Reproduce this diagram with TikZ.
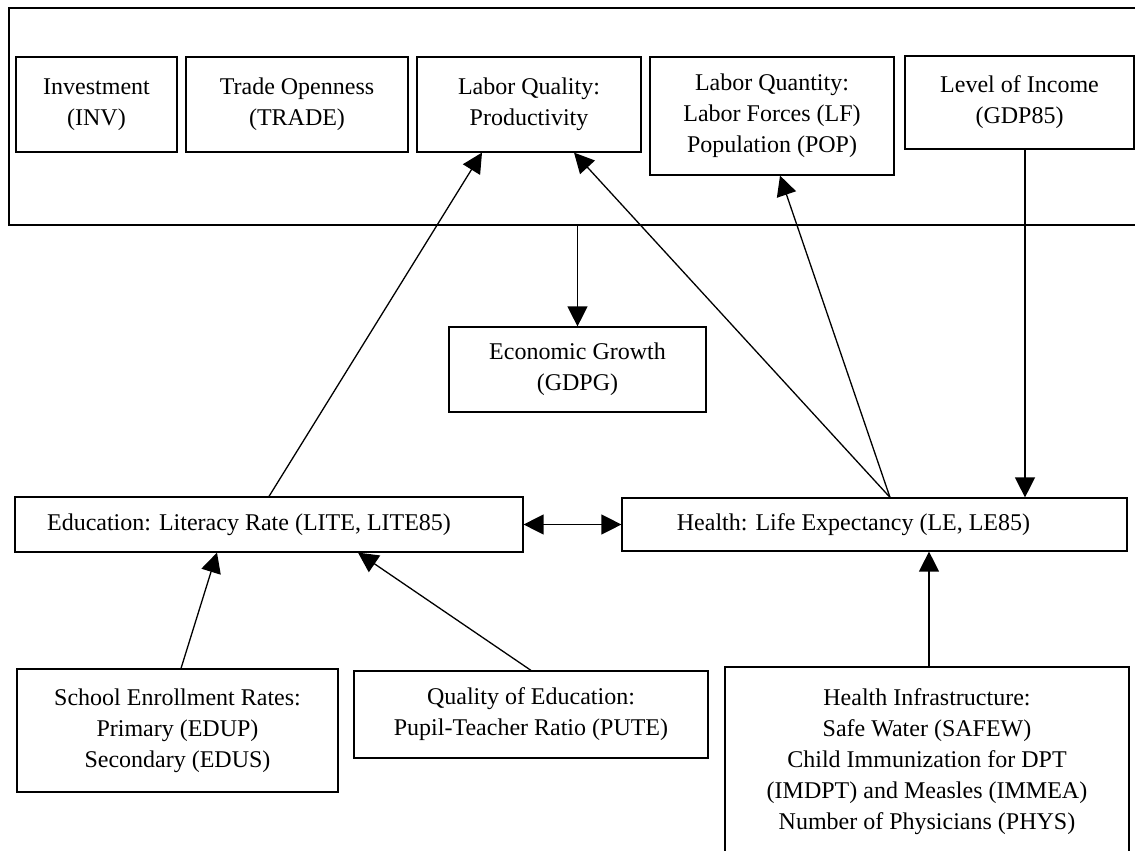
\documentclass[tikz,border=0pt]{standalone}
\usepackage{fontspec}
\setmainfont{Liberation Serif}
\usetikzlibrary{arrows.meta}
\begin{document}
\begin{tikzpicture}[x=1pt,y=-1pt,
  box/.style={draw,line width=1.2pt,inner sep=0pt,align=center,font=\fontsize{24}{31}\selectfont},
  arr/.style={line width=1.3pt,-{Triangle[length=20pt,width=20pt]}},
  dbl/.style={line width=1.3pt,{Triangle[length=20pt,width=20pt]}-{Triangle[length=20pt,width=20pt]}}]
\useasboundingbox (0,0) rectangle (1135,851);
\fill[white] (0,0) rectangle (1135,851);
% outer frame
\node[box,minimum width=1141pt,minimum height=217pt] (top) at (579.5,116.5) {};
% top row
\node[box,minimum width=161pt,minimum height=95pt] (inv) at (96.5,104.5) {Investment\\(INV)};
\node[box,minimum width=222pt,minimum height=95pt] (trade) at (297,104.5) {Trade Openness\\(TRADE)};
\node[box,minimum width=224pt,minimum height=95pt] (lq) at (529,104.5) {Labor Quality:\\Productivity};
\node[box,minimum width=244pt,minimum height=118pt] (lqty) at (772,116) {Labor Quantity:\\Labor Forces (LF)\\Population (POP)};
\node[box,minimum width=229pt,minimum height=93pt] (inc) at (1019.5,102.5) {Level of Income\\(GDP85)};
% middle
\node[box,minimum width=257pt,minimum height=85pt] (eg) at (577.5,369.5) {Economic Growth\\(GDPG)};
\node[box,minimum width=508pt,minimum height=55pt] (edu) at (269,524.5) {Education: Literacy Rate (LITE, LITE85)\hspace*{40pt}};
\node[box,minimum width=505pt,minimum height=53pt] (health) at (874.5,524.5) {Health: Life Expectancy (LE, LE85)\hspace*{42pt}};
% bottom
\node[box,minimum width=321pt,minimum height=123pt] (school) at (177.5,730.5) {School Enrollment Rates:\\Primary (EDUP)\\Secondary (EDUS)};
\node[box,minimum width=354pt,minimum height=87pt] (qe) at (531,714.5) {Quality of Education:\\Pupil-Teacher Ratio (PUTE)};
\node[box,minimum width=404pt,minimum height=190pt] (infra) at (927,762) {Health Infrastructure:\\Safe Water (SAFEW)\\Child Immunization for DPT\\(IMDPT) and Measles (IMMEA)\\Number of Physicians (PHYS)};
% connectors
\draw[arr] (top.south -| eg.north) -- (eg.north);
\draw[arr] (edu.north) -- ([xshift=-47pt]lq.south);
\draw[arr] ([xshift=15.5pt]health.north) -- ([xshift=45pt]lq.south);
\draw[arr] ([xshift=15.5pt]health.north) -- ([xshift=8pt]lqty.south);
\draw[arr] ([xshift=5.5pt]inc.south) -- ([xshift=5.5pt]inc.south |- health.north);
\draw[dbl] (edu.east) -- (health.west);
\draw[arr] ([xshift=3.5pt]school.north) -- ([xshift=-52pt]edu.south);
\draw[arr] (qe.north) -- ([xshift=89pt]edu.south);
\draw[arr] ([xshift=2pt]infra.north) -- ([xshift=2pt]infra.north |- health.south);
\end{tikzpicture}
\end{document}
